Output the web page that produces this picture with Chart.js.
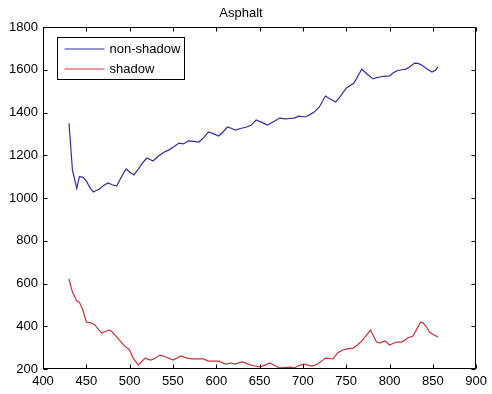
<!DOCTYPE html>
<html>
<head>
<meta charset="utf-8">
<script src="https://cdn.jsdelivr.net/npm/chart.js@4.4.1/dist/chart.umd.min.js"></script>
<style>
  html, body { margin: 0; padding: 0; background: #fff; }
  #wrap { width: 492px; height: 394px; }
</style>
</head>
<body>
<div id="wrap"><canvas id="spectrumChart" width="492" height="394"></canvas></div>
<script>
// Wavelength (nm) and measured values for each curve
const nonShadowWl = [430, 434, 439, 442, 446, 450, 454, 458, 465, 470, 475, 480, 485, 490, 496, 500, 505, 510, 515, 520,
  527, 533, 540, 545, 551, 557, 562, 568, 574, 580, 586, 591, 597, 603, 608, 613, 618, 622, 628, 635,
  640, 646, 652, 659, 666, 673, 680, 685, 690, 695, 703, 708, 713, 719, 726, 732, 738, 744, 750, 755,
  759, 764, 768, 774, 781, 785, 789, 795, 800, 804, 808, 814, 819, 824, 829, 833, 837, 843, 849, 853, 856];
const nonShadowVal = [1350, 1130, 1045, 1100, 1098, 1080, 1050, 1028, 1042, 1058, 1070, 1062, 1056, 1095, 1136, 1122, 1108, 1135, 1165, 1187,
  1173, 1195, 1215, 1224, 1240, 1257, 1253, 1267, 1265, 1262, 1285, 1309, 1300, 1290, 1310, 1332, 1325, 1318, 1325, 1332,
  1340, 1365, 1355, 1341, 1357, 1374, 1370, 1372, 1374, 1383, 1379, 1390, 1402, 1426, 1477, 1462, 1449, 1480, 1514, 1528,
  1538, 1575, 1603, 1580, 1557, 1563, 1566, 1570, 1571, 1585, 1594, 1600, 1603, 1615, 1631, 1630, 1622, 1605, 1589, 1598, 1613];

const shadowWl = [430, 434, 439, 442, 446, 450, 456, 460, 464, 468, 473, 477, 480, 484, 488, 494, 500, 504, 510, 514,
  518, 524, 528, 535, 542, 550, 555, 559, 566, 572, 579, 585, 591, 597, 603, 607, 611, 617, 622, 629,
  633, 639, 645, 651, 656, 662, 668, 673, 679, 685, 690, 695, 701, 706, 711, 717, 722, 726, 731, 735,
  740, 746, 751, 758, 763, 768, 773, 778, 782, 785, 789, 795, 800, 808, 814, 821, 827, 832, 836, 839,
  843, 846, 851, 856];
const shadowVal = [621, 560, 518, 513, 476, 420, 415, 406, 385, 368, 378, 382, 373, 355, 336, 308, 289, 251, 219, 235,
  251, 242, 247, 265, 256, 242, 252, 261, 251, 247, 247, 247, 237, 237, 237, 230, 223, 228, 223, 233,
  230, 219, 214, 209, 218, 228, 215, 205, 207, 209, 205, 215, 223, 218, 214, 223, 238, 251, 249, 247,
  275, 289, 294, 298, 312, 331, 356, 382, 350, 326, 322, 331, 312, 326, 326, 345, 354, 390, 420, 415,
  395, 373, 360, 350];

const seriesNames = ['non-shadow', 'shadow'];
const seriesColors = ['#2f2fa0', '#c8323c'];
const xTicks = [400, 450, 500, 550, 600, 650, 700, 750, 800, 850, 900];
const yTicks = [200, 400, 600, 800, 1000, 1200, 1400, 1600, 1800];

const FONT = 'Liberation Sans, Arial, sans-serif';

function toPoints(xs, ys) {
  return xs.map((x, i) => ({ x: x, y: ys[i] }));
}

// Boxed plot frame with inward tick marks on all four sides
const frameTicks = {
  id: 'frameTicks',
  afterDatasetsDraw(chart) {
    const { ctx, chartArea: a, scales: { x, y } } = chart;
    const L = Math.round(a.left) + 0.5, R = Math.round(a.right) - 0.5;
    const T = Math.round(a.top) + 0.5, B = Math.round(a.bottom) - 0.5;
    ctx.save();
    ctx.strokeStyle = '#000';
    ctx.lineWidth = 1;
    ctx.beginPath();
    x.ticks.forEach(t => {
      const px = Math.round(x.getPixelForValue(t.value)) + 0.5;
      ctx.moveTo(px, B); ctx.lineTo(px, B - 4);
      ctx.moveTo(px, T); ctx.lineTo(px, T + 4);
    });
    y.ticks.forEach(t => {
      const py = Math.round(y.getPixelForValue(t.value)) + 0.5;
      ctx.moveTo(L, py); ctx.lineTo(L + 4, py);
      ctx.moveTo(R, py); ctx.lineTo(R - 4, py);
    });
    ctx.stroke();
    ctx.strokeRect(L, T, R - L, B - T);
    ctx.restore();
  }
};

// Legend box in the upper left corner of the plot
const boxedLegend = {
  id: 'boxedLegend',
  afterDraw(chart) {
    const { ctx, chartArea: a } = chart;
    const bx = Math.round(a.left) + 14.5, by = Math.round(a.top) + 10.5;
    const bw = 127, bh = 42;
    ctx.save();
    ctx.fillStyle = '#fff';
    ctx.fillRect(bx, by, bw, bh);
    ctx.strokeStyle = '#000';
    ctx.lineWidth = 1;
    ctx.strokeRect(bx, by, bw, bh);
    ctx.font = '13px ' + FONT;
    ctx.textBaseline = 'middle';
    chart.data.datasets.forEach((ds, i) => {
      const ly = by + 11.5 + i * 20;
      ctx.strokeStyle = ds.borderColor;
      ctx.lineWidth = 1.2;
      ctx.beginPath();
      ctx.moveTo(bx + 7, ly);
      ctx.lineTo(bx + 47, ly);
      ctx.stroke();
      ctx.fillStyle = '#000';
      ctx.fillText(ds.label, bx + 52, ly);
    });
    ctx.restore();
  }
};

const ctx = document.getElementById('spectrumChart').getContext('2d');
new Chart(ctx, {
  type: 'line',
  data: {
    datasets: [
      {
        label: seriesNames[0],
        data: toPoints(nonShadowWl, nonShadowVal),
        borderColor: seriesColors[0],
        borderWidth: 1.2,
        pointRadius: 0,
        tension: 0
      },
      {
        label: seriesNames[1],
        data: toPoints(shadowWl, shadowVal),
        borderColor: seriesColors[1],
        borderWidth: 1.2,
        pointRadius: 0,
        tension: 0
      }
    ]
  },
  options: {
    responsive: false,
    animation: false,
    layout: { padding: { left: 0, right: 10, top: 0, bottom: 0 } },
    plugins: {
      legend: { display: false },
      tooltip: { enabled: false },
      title: {
        display: true,
        text: 'Asphalt',
        color: '#000',
        font: { family: FONT, size: 13, weight: 'normal', lineHeight: '13px' },
        padding: { top: 7, bottom: 7 }
      }
    },
    scales: {
      x: {
        type: 'linear',
        min: 400,
        max: 900,
        afterBuildTicks: s => { s.ticks = xTicks.map(v => ({ value: v })); },
        afterFit: s => { s.height = 25; },
        grid: { display: false, drawTicks: false },
        border: { display: false },
        ticks: { color: '#000', padding: 5, maxRotation: 0, callback: v => String(v), font: { family: FONT, size: 13 } }
      },
      y: {
        type: 'linear',
        min: 200,
        max: 1800,
        afterBuildTicks: s => { s.ticks = yTicks.map(v => ({ value: v })); },
        afterFit: s => { s.width = 43; },
        grid: { display: false, drawTicks: false },
        border: { display: false },
        ticks: { color: '#000', padding: 5, callback: v => String(v), font: { family: FONT, size: 13 } }
      }
    }
  },
  plugins: [frameTicks, boxedLegend]
});
</script>
</body>
</html>
